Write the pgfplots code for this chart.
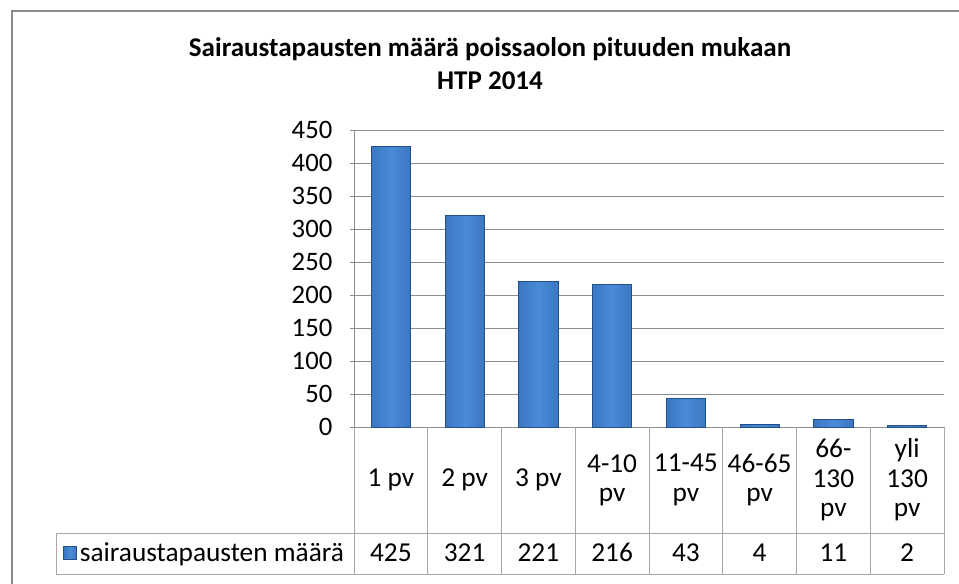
\documentclass[border=0pt]{standalone}
\usepackage{fontspec}
\setmainfont{Carlito}
\usepackage{pgfplots}
\pgfplotsset{compat=1.18}

% 1 pixel of the reference
\newdimen\pu \pu=0.75pt

\definecolor{bardark}{HTML}{224F8A}
\definecolor{barmid}{HTML}{3570BA}
\definecolor{barlight}{HTML}{4A8AD6}
\definecolor{gridgray}{HTML}{8E8E8E}
\definecolor{tablegray}{HTML}{A8A8A8}
\definecolor{framegray}{HTML}{8A8A8A}
\pgfdeclarehorizontalshading{barshade}{100bp}{color(0bp)=(bardark); color(15bp)=(barmid); color(50bp)=(barlight); color(85bp)=(barmid); color(100bp)=(bardark)}

\pgfplotsset{
  barstyle/.style={ybar, bar width=0.53, draw=bardark, line width=0.8\pu, shade, shading=barshade},
}

\begin{document}
\begin{tikzpicture}
\begin{axis}[
    scale only axis,
    width=590\pu, height=297\pu,
    xmin=0.5, xmax=8.5,
    ymin=0, ymax=450,
    ytick={0,50,...,450},
    xtick=\empty,
    axis lines*=left,
    axis line style={gridgray},
    ymajorgrids,
    major grid style={gridgray, line width=0.9\pu},
    tick align=outside,
    major tick length=4\pu,
    tick style={gridgray, line width=0.9\pu},
    /pgf/number format/assume math mode=true,
    yticklabel style={font=\fontsize{20}{24}\selectfont, xshift=-13\pu},
    clip=false,
    legend style={at={(-0.2525,-0.424)}, anchor=center, draw=none, fill=none,
                  font=\fontsize{20.5}{24}\selectfont, inner sep=0pt},
    legend image code/.code={\shade[shading=barshade, draw=bardark] (0pt,-6.5\pu) rectangle (13\pu,6.5\pu);},
]
\addplot[barstyle] coordinates {(1,425)};
\addlegendentry{sairaustapausten määrä}
\addplot[barstyle, forget plot] coordinates {(2,321)};
\addplot[barstyle, forget plot] coordinates {(3,221)};
\addplot[barstyle, forget plot] coordinates {(4,216)};
\addplot[barstyle, forget plot] coordinates {(5,43)};
\addplot[barstyle, forget plot] coordinates {(6,4)};
\addplot[barstyle, forget plot] coordinates {(7,11)};
\addplot[barstyle, forget plot] coordinates {(8,2)};

% data table below the plot
\draw[tablegray, line width=0.9\pu] (axis cs:-3.534,-160.6) -- (axis cs:8.5,-160.6);
\draw[tablegray, line width=0.9\pu] (axis cs:-3.534,-222.7) -- (axis cs:8.5,-222.7);
\draw[tablegray, line width=0.9\pu] (axis cs:-3.534,-160.6) -- (axis cs:-3.534,-222.7);
\pgfplotsinvokeforeach{0.5,1.5,2.5,3.5,4.5,5.5,6.5,7.5,8.5}{
  \draw[tablegray, line width=0.9\pu] (axis cs:#1,0) -- (axis cs:#1,-222.7);
}

\begin{scope}[every node/.style={font=\fontsize{20.5}{22}\selectfont, align=center, anchor=center}]
\node at (axis cs:1,-80.3) {1 pv};
\node at (axis cs:2,-80.3) {2 pv};
\node at (axis cs:3,-80.3) {3 pv};
\node at (axis cs:4,-80.3) {4-10\\pv};
\node at (axis cs:5,-80.3) {11-45\\pv};
\node at (axis cs:6,-80.3) {46-65\\pv};
\node at (axis cs:7,-80.3) {66-\\130\\pv};
\node at (axis cs:8,-80.3) {yli\\130\\pv};
\end{scope}
\begin{scope}[every node/.style={font=\fontsize{20.5}{22}\selectfont, anchor=base}]
\node at (axis cs:1,-203.5) {425};
\node at (axis cs:2,-203.5) {321};
\node at (axis cs:3,-203.5) {221};
\node at (axis cs:4,-203.5) {216};
\node at (axis cs:5,-203.5) {43};
\node at (axis cs:6,-203.5) {4};
\node at (axis cs:7,-203.5) {11};
\node at (axis cs:8,-203.5) {2};
\end{scope}

\node[font=\fontsize{20.3}{25}\selectfont\bfseries, align=center, anchor=center]
  at (axis description cs:0.2305,1.224) {Sairaustapausten määrä poissaolon pituuden mukaan\\HTP 2014};
\end{axis}
\draw[framegray, line width=2\pu] (-342\pu,-160\pu) -- (-342\pu,416\pu) -- (610\pu,416\pu);
\pgfresetboundingbox
\path[use as bounding box] (-354\pu,-156\pu) rectangle (605\pu,427\pu);
\end{tikzpicture}
\end{document}
